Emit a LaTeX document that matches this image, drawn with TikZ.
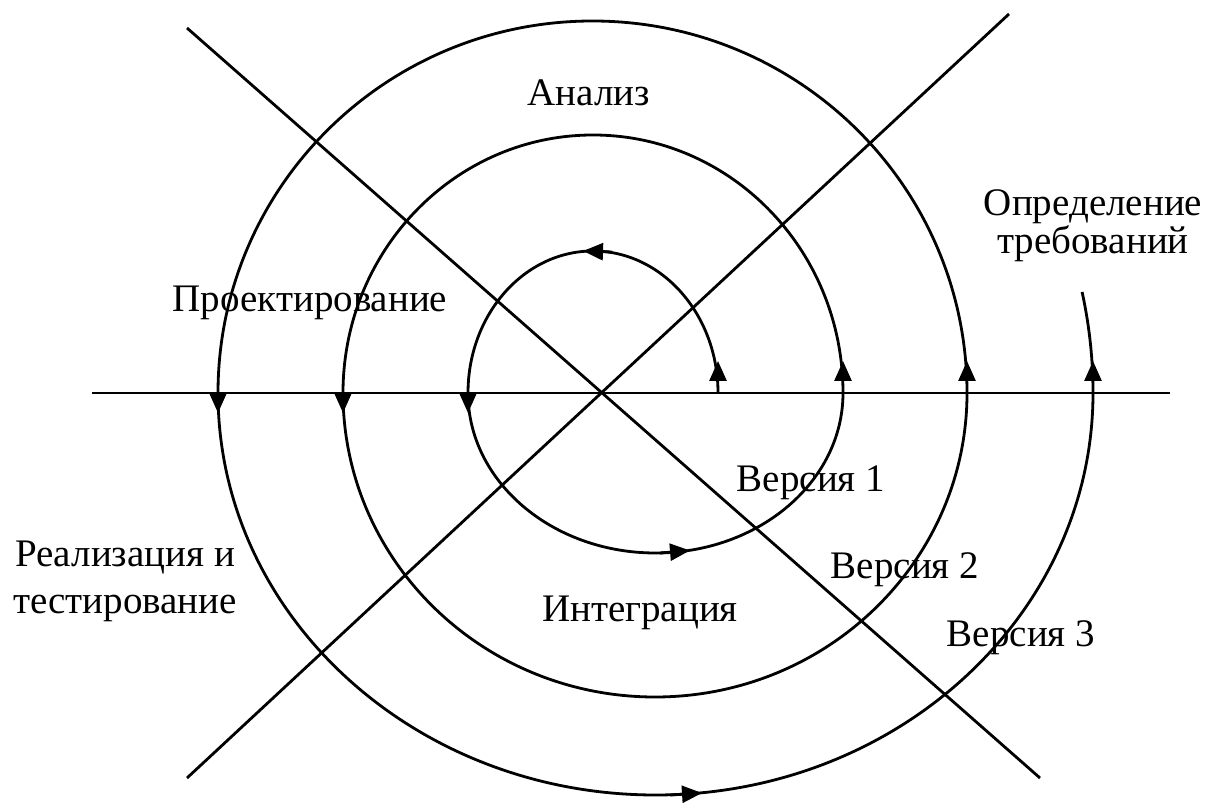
\documentclass[tikz,border=0pt]{standalone}
\usepackage{fontspec}
\setmainfont{Liberation Serif}
\usetikzlibrary{arrows.meta}

\begin{document}
\begin{tikzpicture}[x=0.5pt, y=0.5pt, >={Triangle[length=10pt, width=8.5pt]}]
    \tikzstyle{spiralline} = [draw, line width=1.4pt]
    \tikzstyle{pointer} = [draw, ->, line width=1.4pt]
    \tikzstyle{phasetext} = [font=\fontsize{19.5}{23.5}\selectfont, align=center, inner sep=0pt]

    \useasboundingbox (0,-409) rectangle (1219,393);

    % axes
    \path [spiralline] (92,0) -- (1170,0);
    \path [spiralline] (187,365) -- (1040,-385);
    \path [spiralline] (187,-385) -- (1009,379);

    % spiral, half turns
    \path [spiralline] (718,0)
        arc[start angle=0, end angle=180, x radius=125, y radius=142]
        arc[start angle=180, end angle=360, x radius=187.5, y radius=160]
        arc[start angle=0, end angle=180, x radius=250, y radius=258]
        arc[start angle=180, end angle=360, x radius=312, y radius=304]
        arc[start angle=0, end angle=180, x radius=374.5, y radius=372]
        arc[start angle=180, end angle=360, x radius=437.5, y radius=402]
        arc[start angle=0, end angle=12, x radius=500, y radius=486];

    % direction marks
    \foreach \px in {718,843,967,1093}
        \path [pointer] (\px,0) -- (\px,32);
    \foreach \px in {218,343,468}
        \path [pointer] (\px,0) -- (\px,-20);
    \path [pointer] (612,141) -- (583,142);
    \path [pointer] (660,-160) -- (690,-157.5);
    \path [pointer] (670,-402) -- (702,-400);

    \node [phasetext] (analiz) at (589,300) {Анализ};
    \node [phasetext] (proekt) at (310,90) {Проектирование};
    \node [phasetext, font=\fontsize{19.5}{12.5}\selectfont] (opred) at (1093,167) {Определение\\требований};
    \node [phasetext] (v1) at (811,-90) {Версия 1};
    \node [phasetext] (v2) at (905,-177) {Версия 2};
    \node [phasetext] (v3) at (1021,-245) {Версия 3};
    \node [phasetext] (realiz) at (125,-188) {Реализация и\\тестирование};
    \node [phasetext] (integr) at (640,-220) {Интеграция};
\end{tikzpicture}
\end{document}
